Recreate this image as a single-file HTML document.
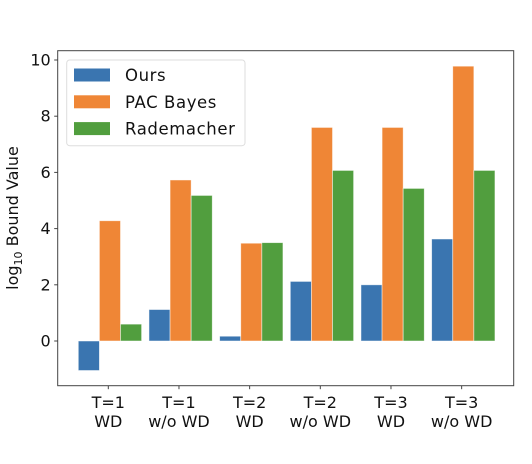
<!DOCTYPE html>
<html><head><meta charset="utf-8"><style>
body{margin:0;background:#fff;}
svg{display:block;font-family:"DejaVu Sans","Liberation Sans",sans-serif;}
</style></head><body>
<svg id="chart" width="532" height="464" xmlns="http://www.w3.org/2000/svg">
<g id="plot"></g>
</svg>
<script>
const categories = ["T=1|WD","T=1|w/o WD","T=2|WD","T=2|w/o WD","T=3|WD","T=3|w/o WD"];
const oursValues = [-1.05, 1.12, 0.17, 2.12, 2.0, 3.63];
const pacBayesValues = [4.28, 5.73, 3.48, 7.6, 7.6, 9.78];
const rademacherValues = [0.6, 5.18, 3.5, 6.07, 5.43, 6.07];
const yTicks = [0, 2, 4, 6, 8, 10];
const seriesNames = ["Ours","PAC Bayes","Rademacher"];

const NS="http://www.w3.org/2000/svg";
const svg=document.getElementById('chart');
const AX={l:57.7,r:513.7,t:50.7,b:385.7};
function y(v){return 341-(v)*28.1;}
function xTick(i){return 108.3+i*70.67;}
const bw=21.1;
const colors=["#3a75b0","#ef8636","#519e3e"];
const series=[oursValues,pacBayesValues,rademacherValues];
function el(tag,attrs,parent){const e=document.createElementNS(NS,tag);for(const k in attrs)e.setAttribute(k,attrs[k]);(parent||svg).appendChild(e);return e;}

const barNames=["bar-ours","bar-pac-bayes","bar-rademacher"];
series.forEach((vals,s)=>{
  vals.forEach((v,i)=>{
    const x0=xTick(i)-30+s*bw;
    const r=el('rect',{x:x0,y:Math.min(y(v),y(0)),width:bw,height:Math.abs(y(v)-y(0)),fill:colors[s],stroke:"#fff",'stroke-opacity':0.6,'stroke-width':0.8});
    
    
  });
});

const fr=el('rect',{x:AX.l,y:AX.t,width:AX.r-AX.l,height:AX.b-AX.t,fill:"none",stroke:"#444",'stroke-width':1});



yTicks.forEach(t=>{
  el('line',{x1:AX.l-3.5,x2:AX.l,y1:y(t),y2:y(t),stroke:"#444",'stroke-width':1});
  const tx=el('text',{x:AX.l-7,y:y(t)+5.5,'text-anchor':'end','font-size':16,fill:"#111"});
  tx.textContent=t;
  
  
});
categories.forEach((c,i)=>{
  const x=xTick(i);
  el('line',{x1:x,x2:x,y1:AX.b,y2:AX.b+3.5,stroke:"#444",'stroke-width':1});
  const parts=c.split('|');
  parts.forEach((p,j)=>{
    const tx=el('text',{x:x,y:408+j*19,'text-anchor':'middle','font-size':16,fill:"#111"});
    tx.textContent=p;
    
    
  });
});
const yt=el('text',{transform:"translate(18,218) rotate(-90)",'text-anchor':'middle','font-size':16,fill:"#111"});
yt.innerHTML='log<tspan font-size="11" dy="4">10</tspan><tspan dy="-4"> Bound Value</tspan>';



const lg=el('g',{});


el('rect',{x:66.7,y:60,width:178.3,height:85.7,rx:3,fill:"#fff",'fill-opacity':0.8,stroke:"#ddd",'stroke-width':1},lg);
seriesNames.forEach((n,s)=>{
  const cy=75+s*26.8;
  el('rect',{x:74,y:cy-6.5,width:36,height:13,fill:colors[s]},lg);
  const tx=el('text',{x:125,y:cy+6,'font-size':16.5,'letter-spacing':0.6,fill:"#111"},lg);
  tx.textContent=n;
  
  
});
</script>
</body></html>
